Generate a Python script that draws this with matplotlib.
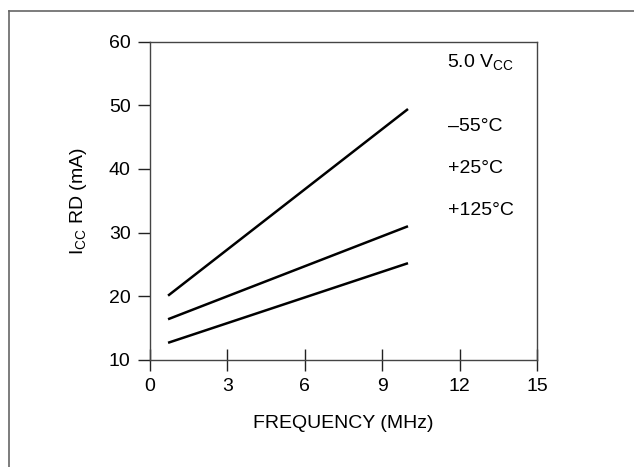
import matplotlib.pyplot as plt
from matplotlib.lines import Line2D

plt.rcParams['font.family'] = ['Liberation Sans', 'DejaVu Sans']

# frequency (MHz) at the two ends of each curve
freq = [0.7, 10.0]
icc_m55 = [20.1, 49.4]
icc_p25 = [16.4, 31.0]
icc_p125 = [12.7, 25.2]

temp_labels = ['–55°C', '+25°C', '+125°C']
temp_label_y = [46.6, 40.1, 33.4]

xticks = [0, 3, 6, 9, 12, 15]
yticks = [10, 20, 30, 40, 50, 60]

dpi = 100
fig = plt.figure(figsize=(6.34, 4.67), dpi=dpi)
ax = fig.add_axes([150 / 634, 107 / 467, 387 / 634, 318.5 / 467])

for ys in (icc_m55, icc_p25, icc_p125):
    ax.plot(freq, ys, color='black', lw=1.8, solid_capstyle='butt')

ax.set_xlim(0, 15)
ax.set_ylim(10, 60)
ax.set_xticks(xticks)
ax.set_yticks(yticks)

for s in ax.spines.values():
    s.set_color('#444444')
    s.set_linewidth(1.0)

fs = 14
ax.tick_params(axis='x', direction='inout', length=16, width=1.0, color='#222222',
               labelsize=fs, pad=5)
ax.tick_params(axis='y', direction='out', length=9, width=1.0, color='#222222',
               labelsize=fs, pad=5)

ax.set_xlabel('FREQUENCY (MHz)', fontsize=fs, labelpad=14)
ax.set_ylabel('I$_{\\mathregular{CC}}$ RD (mA)', fontsize=fs, labelpad=14)

ax.text(11.5, 56.6, '5.0 V$_{\\mathregular{CC}}$', fontsize=fs, va='center', ha='left')
for lab, yv in zip(temp_labels, temp_label_y):
    ax.text(11.55, yv, lab, fontsize=fs, va='center', ha='left')

# outer frame of the scanned figure (only top and left visible)
fig.add_artist(Line2D([9 / 634, 9 / 634], [0, 1 - 11 / 467], transform=fig.transFigure,
                      color='#666666', lw=1.2))
fig.add_artist(Line2D([9 / 634, 1], [1 - 11 / 467, 1 - 11 / 467], transform=fig.transFigure,
                      color='#666666', lw=1.2))

fig.savefig('out.png', dpi=dpi)
